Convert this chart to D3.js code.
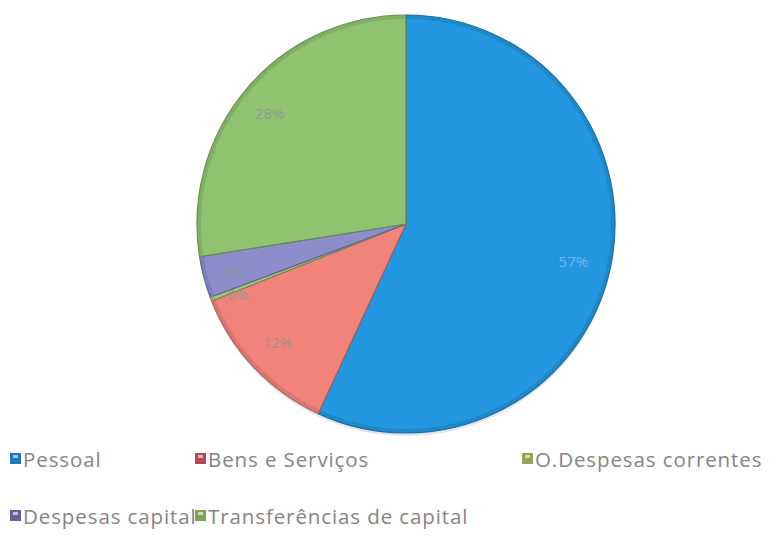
<!DOCTYPE html>
<html>
<head>
<meta charset="utf-8">
<script src="https://cdn.jsdelivr.net/npm/d3@7"></script>
<style>
  body { margin: 0; background: #fff; }
  svg { display: block; }
</style>
</head>
<body>
<svg id="chart" width="781" height="536"></svg>
<script>
// Data
const categories = ["Pessoal", "Bens e Serviços", "O.Despesas correntes", "Despesas capital", "Transferências de capital"];
const values = [56.9, 12.1, 0.3, 3.2, 27.5];
const labels = ["57%", "12%", "0%", "3%", "28%"];
const colors = ["#2397df", "#f0837a", "#a3c879", "#8e8dcb", "#90c370"];
const legendColors = ["#2677b8", "#b94453", "#93a35a", "#6a5f96", "#7ea552"];

const svg = d3.select("#chart");

// Pie geometry
const cx = 406, cy = 224, radius = 209;

const pie = d3.pie().sort(null).value(d => d.value);
const arc = d3.arc().innerRadius(0).outerRadius(radius);
const rimArc = d3.arc().innerRadius(radius - 4).outerRadius(radius);
const labelArc = d3.arc().innerRadius(radius * 0.82).outerRadius(radius * 0.82);

const data = categories.map((name, i) => ({ name, value: values[i], label: labels[i], i }));

const pieGroup = svg.append("g")
  .attr("transform", `translate(${ cx }, ${ cy })`);

// Soft shadow under the pie
pieGroup.append("ellipse")
  .attr("cx", 0).attr("cy", 3)
  .attr("rx", radius).attr("ry", radius)
  .attr("fill", "#e2e6ec");

pieGroup.selectAll("path.slice")
  .data(pie(data))
  .enter()
  .append("path")
  .attr("class", "slice")
  .attr("d", arc)
  .attr("fill", d => colors[d.data.i])
  .attr("stroke", d => d3.color(colors[d.data.i]).darker(1).formatHex())
  .attr("stroke-width", 1.2)
  .attr("stroke-linejoin", "round");

// Darker rim along the outer edge
pieGroup.selectAll("path.rim")
  .data(pie(data))
  .enter()
  .append("path")
  .attr("class", "rim")
  .attr("d", rimArc)
  .attr("fill", d => d3.color(colors[d.data.i]).darker(0.5).formatHex())
  .attr("fill-opacity", 0.6);

// Percentage labels
const labelOffsets = [[0, 0], [-4, 0], [-8, 8], [-8, 2], [-6, 0]];
pieGroup.selectAll("text.pct")
  .data(pie(data))
  .enter()
  .append("text")
  .attr("class", "pct")
  .attr("x", d => labelArc.centroid(d)[0] + labelOffsets[d.data.i][0])
  .attr("y", d => labelArc.centroid(d)[1] + labelOffsets[d.data.i][1])
  .attr("text-anchor", "middle")
  .attr("dominant-baseline", "central")
  .attr("font-family", "'Open Sans', sans-serif")
  .attr("font-size", "15px")
  .attr("fill", d => d.data.i === 0 ? "#7cbae8" : "#949494")
  .attr("fill-opacity", 0.9)
  .text(d => d.data.label);

// Legend
const legendX = [10, 195, 522];
const legendY = [458, 515];
const legend = svg.append("g")
  .selectAll("g")
  .data(data)
  .enter()
  .append("g")
  .attr("transform", d => `translate(${ legendX[d.i % 3] }, ${ legendY[Math.floor(d.i / 3)] })`);

legend.append("rect")
  .attr("x", 0).attr("y", -5)
  .attr("width", 11).attr("height", 11)
  .attr("fill", d => legendColors[d.i]);

legend.append("rect")
  .attr("x", 3).attr("y", -3)
  .attr("width", 5).attr("height", 3)
  .attr("fill", "#ffffff")
  .attr("fill-opacity", 0.6);

legend.append("text")
  .attr("x", 13)
  .attr("y", 1)
  .attr("dominant-baseline", "central")
  .attr("font-family", "'Open Sans', sans-serif")
  .attr("font-size", "20.5px")
  .attr("letter-spacing", "0.9px")
  .attr("fill", "#858585")
  .text(d => d.name);
</script>
</body>
</html>
